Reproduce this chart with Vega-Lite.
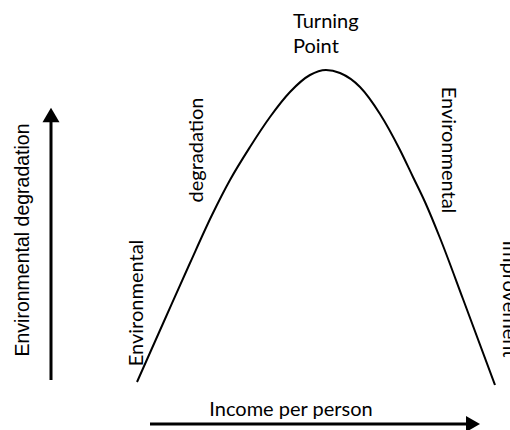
{
  "$schema": "https://vega.github.io/schema/vega-lite/v6.json",
  "width": 510,
  "height": 430,
  "padding": 0,
  "autosize": {"type": "none"},
  "background": "white",
  "config": {"view": {"stroke": null}},
  "encoding": {
    "x": {"type": "quantitative", "scale": {"domain": [0, 510], "nice": false, "zero": false}, "axis": null},
    "y": {"type": "quantitative", "scale": {"domain": [0, 430], "nice": false, "zero": false}, "axis": null}
  },
  "layer": [
    {
      "data": {"values": [
        {"income": 137, "degradation": 48},
        {"income": 165, "degradation": 111},
        {"income": 190, "degradation": 167},
        {"income": 212, "degradation": 215},
        {"income": 230, "degradation": 250},
        {"income": 250, "degradation": 283},
        {"income": 270, "degradation": 313},
        {"income": 290, "degradation": 338},
        {"income": 310, "degradation": 355},
        {"income": 326, "degradation": 360},
        {"income": 340, "degradation": 357},
        {"income": 360, "degradation": 343},
        {"income": 380, "degradation": 316},
        {"income": 400, "degradation": 280},
        {"income": 413, "degradation": 253},
        {"income": 425, "degradation": 228},
        {"income": 440, "degradation": 192},
        {"income": 463, "degradation": 131},
        {"income": 495, "degradation": 45}
      ]},
      "mark": {"type": "line", "interpolate": "monotone", "color": "black", "strokeWidth": 2},
      "encoding": {
        "x": {"field": "income"},
        "y": {"field": "degradation"}
      }
    },
    {
      "data": {"values": [
        {"x": 51, "y": 50, "x2": 51, "y2": 310},
        {"x": 150, "x2": 468, "y": 6, "y2": 6}
      ]},
      "mark": {"type": "rule", "color": "black", "strokeWidth": 3},
      "encoding": {
        "x": {"field": "x"},
        "x2": {"field": "x2"},
        "y": {"field": "y"},
        "y2": {"field": "y2"}
      }
    },
    {
      "data": {"values": [{"x": 51, "y": 315}]},
      "mark": {"type": "point", "shape": "triangle-up", "filled": true, "color": "black", "opacity": 1, "size": 290},
      "encoding": {"x": {"field": "x"}, "y": {"field": "y"}}
    },
    {
      "data": {"values": [{"x": 473, "y": 6}]},
      "mark": {"type": "point", "shape": "triangle-right", "filled": true, "color": "black", "opacity": 1, "size": 260},
      "encoding": {"x": {"field": "x"}, "y": {"field": "y"}}
    },
    {
      "data": {"values": [{"x": 23, "y": 190, "label": "Environmental  degradation"}]},
      "mark": {"type": "text", "angle": 270, "align": "center", "baseline": "middle", "font": "Liberation Sans", "fontSize": 19.5, "color": "black"},
      "encoding": {"x": {"field": "x"}, "y": {"field": "y"}, "text": {"field": "label"}}
    },
    {
      "data": {"values": [
        {"x": 137, "y": 127, "label": "Environmental"},
        {"x": 197, "y": 280, "label": "degradation"}
      ]},
      "mark": {"type": "text", "angle": 270, "align": "center", "baseline": "middle", "font": "Lato", "fontSize": 20, "color": "black"},
      "encoding": {"x": {"field": "x"}, "y": {"field": "y"}, "text": {"field": "label"}}
    },
    {
      "data": {"values": [
        {"x": 448, "y": 280, "label": "Environmental"},
        {"x": 509, "y": 131, "label": "Improvement"}
      ]},
      "mark": {"type": "text", "angle": 90, "align": "center", "baseline": "middle", "font": "Lato", "fontSize": 20, "color": "black"},
      "encoding": {"x": {"field": "x"}, "y": {"field": "y"}, "text": {"field": "label"}}
    },
    {
      "data": {"values": [
        {"x": 293, "y": 408, "label": "Turning"},
        {"x": 293, "y": 383, "label": "Point"}
      ]},
      "mark": {"type": "text", "align": "left", "baseline": "middle", "font": "Lato", "fontSize": 20, "color": "black"},
      "encoding": {"x": {"field": "x"}, "y": {"field": "y"}, "text": {"field": "label"}}
    },
    {
      "data": {"values": [{"x": 291, "y": 20, "label": "Income per person"}]},
      "mark": {"type": "text", "align": "center", "baseline": "middle", "font": "Lato", "fontSize": 20, "color": "black"},
      "encoding": {"x": {"field": "x"}, "y": {"field": "y"}, "text": {"field": "label"}}
    }
  ]
}
